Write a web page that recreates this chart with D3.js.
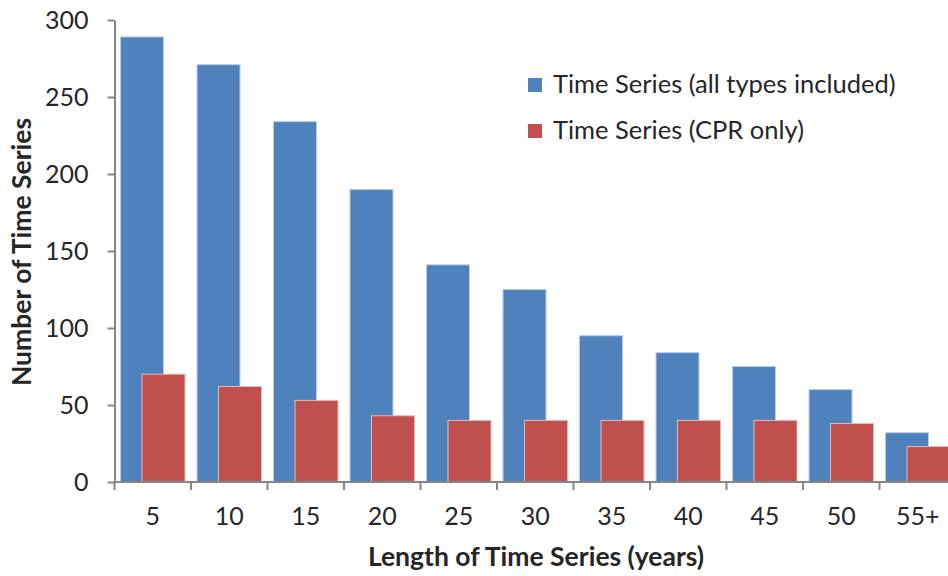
<!DOCTYPE html>
<html>
<head>
<meta charset="utf-8">
<script src="https://cdn.jsdelivr.net/npm/d3@7"></script>
<style>
  body { margin: 0; background: #fff; }
  svg { display: block; }
  text { font-family: Lato, "Open Sans", sans-serif; fill: #262626; }
</style>
</head>
<body>
<div id="chart"></div>
<script>
var svgWidth = 948;
var svgHeight = 576;

// chart data
var categories = ["5", "10", "15", "20", "25", "30", "35", "40", "45", "50", "55+"];
var allTypes = [289, 271, 234, 190, 141, 125, 95, 84, 75, 60, 32];
var cprOnly = [70, 62, 53, 43, 40, 40, 40, 40, 40, 38, 23];
var seriesNames = ["Time Series (all types included)", "Time Series (CPR only)"];
var seriesColors = ["#4F81BD", "#C0504D"];
var yTicks = [0, 50, 100, 150, 200, 250, 300];

// plot area (window.top is reserved, so no "top" var here)
var plotLeft = 114.5, plotTop = 20, plotBottom = 482;
var band = 76.5;

var svg = d3.select("#chart")
  .append("svg")
  .attr("width", svgWidth)
  .attr("height", svgHeight);

var x = d3.scaleBand()
  .domain(categories)
  .range([plotLeft, plotLeft + band * categories.length]);

var y = d3.scaleLinear()
  .domain([0, 300])
  .range([plotBottom, plotTop]);

// excel style: 50% overlap, gap width ~28%
var bw = x.bandwidth() / 1.78;
var gap = bw * 0.14;

// blue bars
svg.append("g").selectAll("rect")
  .data(allTypes)
  .enter()
  .append("rect")
  .attr("x", (d, i) => x(categories[i]) + gap)
  .attr("y", d => y(d))
  .attr("width", bw)
  .attr("height", d => plotBottom - y(d))
  .attr("fill", seriesColors[0])
  .attr("stroke", "#b9cde5")
  .attr("stroke-width", 1);

// red bars on top
svg.append("g").selectAll("rect")
  .data(cprOnly)
  .enter()
  .append("rect")
  .attr("x", (d, i) => x(categories[i]) + gap + bw * 0.5)
  .attr("y", d => y(d))
  .attr("width", bw)
  .attr("height", d => plotBottom - y(d))
  .attr("fill", seriesColors[1])
  .attr("stroke", "#e6b9b8")
  .attr("stroke-width", 1);

// y axis
var yAxis = svg.append("g")
  .attr("transform", `translate(${plotLeft}, 0)`)
  .call(d3.axisLeft(y).tickValues(yTicks).tickSize(7).tickPadding(19).tickSizeOuter(0));
yAxis.select(".domain").attr("stroke", "#868686").attr("stroke-width", 2);
yAxis.selectAll(".tick line").attr("stroke", "#868686").attr("stroke-width", 2);
yAxis.selectAll(".tick text")
  .attr("font-size", "25px")
  .attr("font-family", "Lato, sans-serif")
  .attr("fill", "#262626");

// x axis: labels at centre, ticks on band edges
var xAxis = svg.append("g")
  .attr("transform", `translate(0, ${plotBottom})`)
  .call(d3.axisBottom(x).tickSize(0).tickPadding(25).tickSizeOuter(0));
xAxis.select(".domain").remove();
xAxis.selectAll(".tick text")
  .attr("font-size", "25px")
  .attr("font-family", "Lato, sans-serif")
  .attr("fill", "#262626");

svg.append("line")
  .attr("x1", plotLeft).attr("x2", svgWidth)
  .attr("y1", plotBottom).attr("y2", plotBottom)
  .attr("stroke", "#868686").attr("stroke-width", 2);

svg.append("g").selectAll("line")
  .data(categories.concat(["end"]))
  .enter()
  .append("line")
  .attr("x1", (d, i) => plotLeft + i * x.step())
  .attr("x2", (d, i) => plotLeft + i * x.step())
  .attr("y1", plotBottom)
  .attr("y2", plotBottom + 8)
  .attr("stroke", "#868686")
  .attr("stroke-width", 2);

// axis titles
svg.append("text")
  .attr("x", 536)
  .attr("y", 566)
  .attr("text-anchor", "middle")
  .attr("font-size", "26.5px")
  .attr("font-weight", "bold")
  .text("Length of Time Series (years)");

svg.append("text")
  .attr("transform", "rotate(-90)")
  .attr("x", -252)
  .attr("y", 31)
  .attr("text-anchor", "middle")
  .attr("font-size", "26.5px")
  .attr("font-weight", "bold")
  .text("Number of Time Series");

// legend
var legend = svg.append("g");
seriesNames.forEach(function(name, i) {
  legend.append("rect")
    .attr("x", 528)
    .attr("y", 78 + i * 46)
    .attr("width", 14)
    .attr("height", 14)
    .attr("fill", seriesColors[i]);
  legend.append("text")
    .attr("x", 553)
    .attr("y", 93 + i * 46)
    .attr("font-size", "25.5px")
    .text(name);
});
</script>
</body>
</html>
